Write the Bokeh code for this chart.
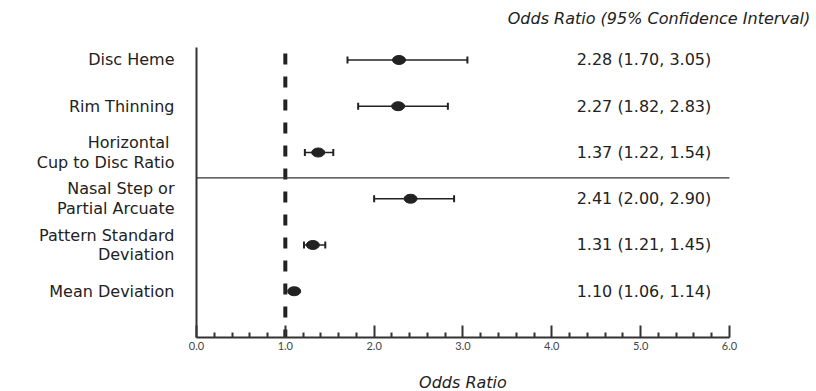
from bokeh.plotting import figure
from bokeh.models import Range1d, FixedTicker, PrintfTickFormatter
from bokeh.embed import file_html
from bokeh.resources import INLINE
from bokeh.core.properties import value

# ---- data ----
row_labels = [
    "Disc Heme",
    "Rim Thinning",
    "Horizontal \nCup to Disc Ratio",
    "Nasal Step or\nPartial Arcuate",
    "Pattern Standard\nDeviation",
    "Mean Deviation",
]
odds = [2.28, 2.27, 1.37, 2.41, 1.31, 1.10]
lower = [1.70, 1.82, 1.22, 2.00, 1.21, 1.06]
upper = [3.05, 2.83, 1.54, 2.90, 1.45, 1.14]
rows = [6, 5, 4, 3, 2, 1]
x_ticks = [0, 1, 2, 3, 4, 5, 6]
x_tick_format = "%.1f"   # tick labels 0.0, 1.0, ... 6.0
x_minor_ticks = [0.2, 0.4, 0.6, 0.8, 1.2, 1.4, 1.6, 1.8, 2.2, 2.4, 2.6, 2.8,
                 3.2, 3.4, 3.6, 3.8, 4.2, 4.4, 4.6, 4.8, 5.2, 5.4, 5.6, 5.8]
reference_or = 1.0
group_split = 3.45
title_text = "Odds Ratio (95% Confidence Interval)"
x_title = "Odds Ratio"

value_texts = [f"{o:.2f} ({l:.2f}, {u:.2f})" for o, l, u in zip(odds, lower, upper)]

INK = "#222222"
FONT = "DejaVu Sans"

X_MAX = 6.0          # end of the drawn x axis
Y_TOP = 6.27         # top of the drawn y axis

p = figure(width=816, height=391, x_range=Range1d(-2.2065, 6.98), y_range=Range1d(-1.1676, 7.286),
           output_backend="svg", toolbar_location=None,
           min_border_left=0, min_border_right=0, min_border_top=0, min_border_bottom=0)
p.outline_line_color = None
p.xgrid.visible = False
p.ygrid.visible = False
p.background_fill_color = "white"
p.border_fill_color = "white"

# x axis, pinned at y = 0
xa = p.xaxis[0]
xa.fixed_location = 0
xa.bounds = (0, X_MAX)
xa.ticker = FixedTicker(ticks=x_ticks, minor_ticks=x_minor_ticks)
xa.formatter = PrintfTickFormatter(format=x_tick_format)
xa.major_tick_in = 12
xa.major_tick_out = 0
xa.minor_tick_in = 5
xa.minor_tick_out = 0
xa.major_tick_line_width = 2
xa.minor_tick_line_width = 2
xa.major_tick_line_color = "#333333"
xa.minor_tick_line_color = "#333333"
xa.axis_line_width = 2
xa.axis_line_color = "#333333"
xa.major_label_text_font = "Lato"
xa.major_label_text_font_size = "11px"
xa.major_label_text_color = "#444444"
xa.major_label_standoff = 5

# y axis, pinned at x = 0: line + row labels
ya = p.yaxis[0]
ya.fixed_location = 0
ya.bounds = (0, Y_TOP)
ya.ticker = FixedTicker(ticks=rows)
ya.major_label_overrides = {r: s for r, s in zip(rows, row_labels)}
ya.major_tick_line_color = None
ya.minor_tick_line_color = None
ya.major_label_standoff = 16
ya.major_label_text_font = FONT
ya.major_label_text_font_size = "16px"
ya.major_label_text_line_height = 1.05
ya.major_label_text_color = INK
ya.axis_line_width = 2
ya.axis_line_color = "#333333"

# reference line (OR = 1) and group separator
p.segment(x0=[reference_or], y0=[Y_TOP], x1=[reference_or], y1=[0], line_color=INK,
          line_width=4, line_dash="11 12", line_dash_offset=17)
p.segment(x0=[0], y0=[group_split], x1=[X_MAX], y1=[group_split], line_color="#333333",
          line_width=1.3)

# error bars
p.segment(x0=lower, y0=rows, x1=upper, y1=rows, line_color=INK, line_width=1.3)
cap = 0.075
p.segment(x0=lower, y0=[r - cap for r in rows], x1=lower, y1=[r + cap for r in rows],
          line_color=INK, line_width=2)
p.segment(x0=upper, y0=[r - cap for r in rows], x1=upper, y1=[r + cap for r in rows],
          line_color=INK, line_width=2)

# point estimates
p.ellipse(x=odds, y=rows, width=13, height=9, width_units="screen", height_units="screen",
          fill_color=INK, line_color=INK)

# value text column
p.text(x=[4.28] * len(rows), y=rows, text=value_texts, text_font=value(FONT),
       text_font_size="16px", text_color=INK, text_baseline="middle", text_align="left")

# column header
p.text(x=[6.91], y=[6.897], text=[title_text], text_font=value(FONT),
       text_font_style="italic", text_font_size="16px", text_color=INK,
       text_baseline="middle", text_align="right")

# x axis title, centred under the axis
p.text(x=[X_MAX / 2], y=[-0.973], text=[x_title], text_font=value(FONT),
       text_font_style="italic", text_font_size="16px", text_color=INK,
       text_baseline="middle", text_align="center")

open("out.html", "w").write(file_html(p, INLINE))
